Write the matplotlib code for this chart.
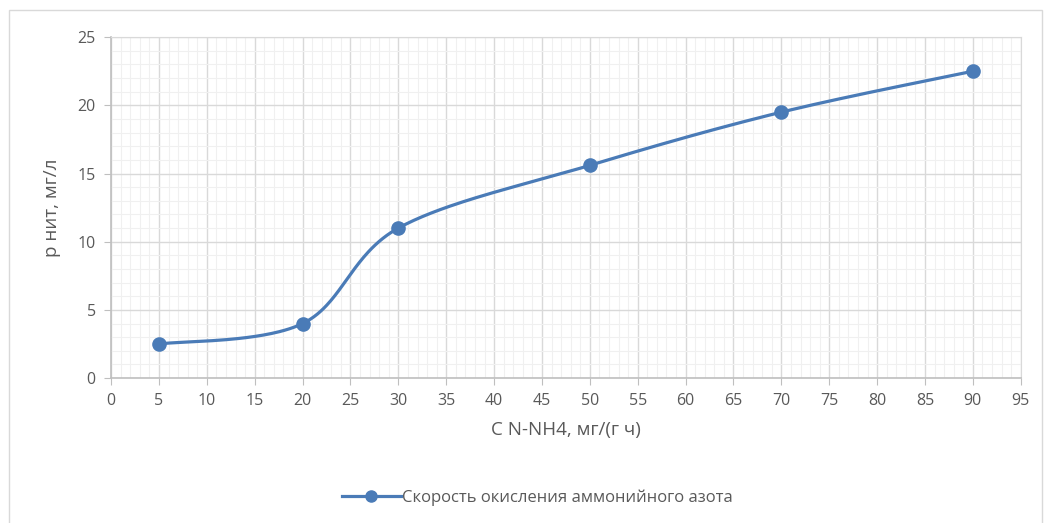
import numpy as np
import matplotlib.pyplot as plt
from matplotlib.patches import Rectangle
from matplotlib.ticker import MultipleLocator

# Ammonium nitrogen load vs. nitrite concentration
load_x = [5, 20, 30, 50, 70, 90]
nitrite_y = [2.5, 4, 11, 15.6, 19.5, 22.5]

series_label = "Скорость окисления аммонийного азота"
x_label = "C N-NH4, мг/(г ч)"
y_label = "р нит, мг/л"

LINE_COLOR = "#4A7BB7"
TEXT_COLOR = "#595959"


def smooth_curve(xs, ys, steps=60):
    """Catmull-Rom style Bezier smoothing through every point."""
    pts = np.column_stack([xs, ys]).astype(float)
    padded = np.vstack([pts[0], pts, pts[-1]])
    out = []
    for i in range(1, len(padded) - 2):
        p0, p1, p2, p3 = padded[i - 1], padded[i], padded[i + 1], padded[i + 2]
        c1 = p1 + (p2 - p0) / 6
        c2 = p2 - (p3 - p1) / 6
        t = np.linspace(0, 1, steps)[:, None]
        seg = ((1 - t) ** 3) * p1 + 3 * ((1 - t) ** 2) * t * c1 \
            + 3 * (1 - t) * t ** 2 * c2 + t ** 3 * p2
        out.append(seg if i == 1 else seg[1:])
    curve = np.vstack(out)
    return curve[:, 0], curve[:, 1]


def main():
    plt.rcParams["font.family"] = ["Open Sans", "DejaVu Sans"]

    fig = plt.figure(figsize=(10.48, 5.23), dpi=100)
    fig.patches.append(Rectangle((0.009, -0.01), 0.985, 0.99, transform=fig.transFigure,
                                 fill=False, edgecolor="#D9D9D9", linewidth=1))
    ax = fig.add_axes([0.106, 0.277, 0.868, 0.652])

    cx, cy = smooth_curve(load_x, nitrite_y)
    ax.plot(cx, cy, color=LINE_COLOR, linewidth=2.3, zorder=3)
    ax.plot(load_x, nitrite_y, linestyle="none", marker="o", markersize=9.5,
            color=LINE_COLOR, zorder=4)

    ax.set_xlim(0, 95)
    ax.set_ylim(0, 25)
    ax.xaxis.set_major_locator(MultipleLocator(5))
    ax.xaxis.set_minor_locator(MultipleLocator(1))
    ax.yaxis.set_major_locator(MultipleLocator(5))
    ax.yaxis.set_minor_locator(MultipleLocator(1))

    ax.grid(which="major", color="#D9D9D9", linewidth=1)
    ax.grid(which="minor", color="#F0F0F0", linewidth=0.8)
    ax.set_axisbelow(True)

    for side in ["top", "right"]:
        ax.spines[side].set_color("#D9D9D9")
    for side in ["left", "bottom"]:
        ax.spines[side].set_color("#BFBFBF")
        ax.spines[side].set_linewidth(1.2)

    ax.tick_params(which="major", length=5, color="#BFBFBF", labelsize=11.5,
                   labelcolor=TEXT_COLOR, pad=6)
    ax.tick_params(which="minor", length=0)

    ax.set_xlabel(x_label, fontsize=13.5, color=TEXT_COLOR, labelpad=8)
    ax.set_ylabel(y_label, fontsize=13.5, color=TEXT_COLOR, labelpad=12)

    handle, = ax.plot([], [], color=LINE_COLOR, linewidth=2.3, marker="o",
                      markersize=8)
    fig.legend([handle], [series_label], loc="center", bbox_to_anchor=(0.513, 0.048),
               frameon=False, fontsize=12, labelcolor=TEXT_COLOR,
               handlelength=3.5, handletextpad=0.1)

    fig.savefig("out.png", dpi=100)


if __name__ == "__main__":
    main()
